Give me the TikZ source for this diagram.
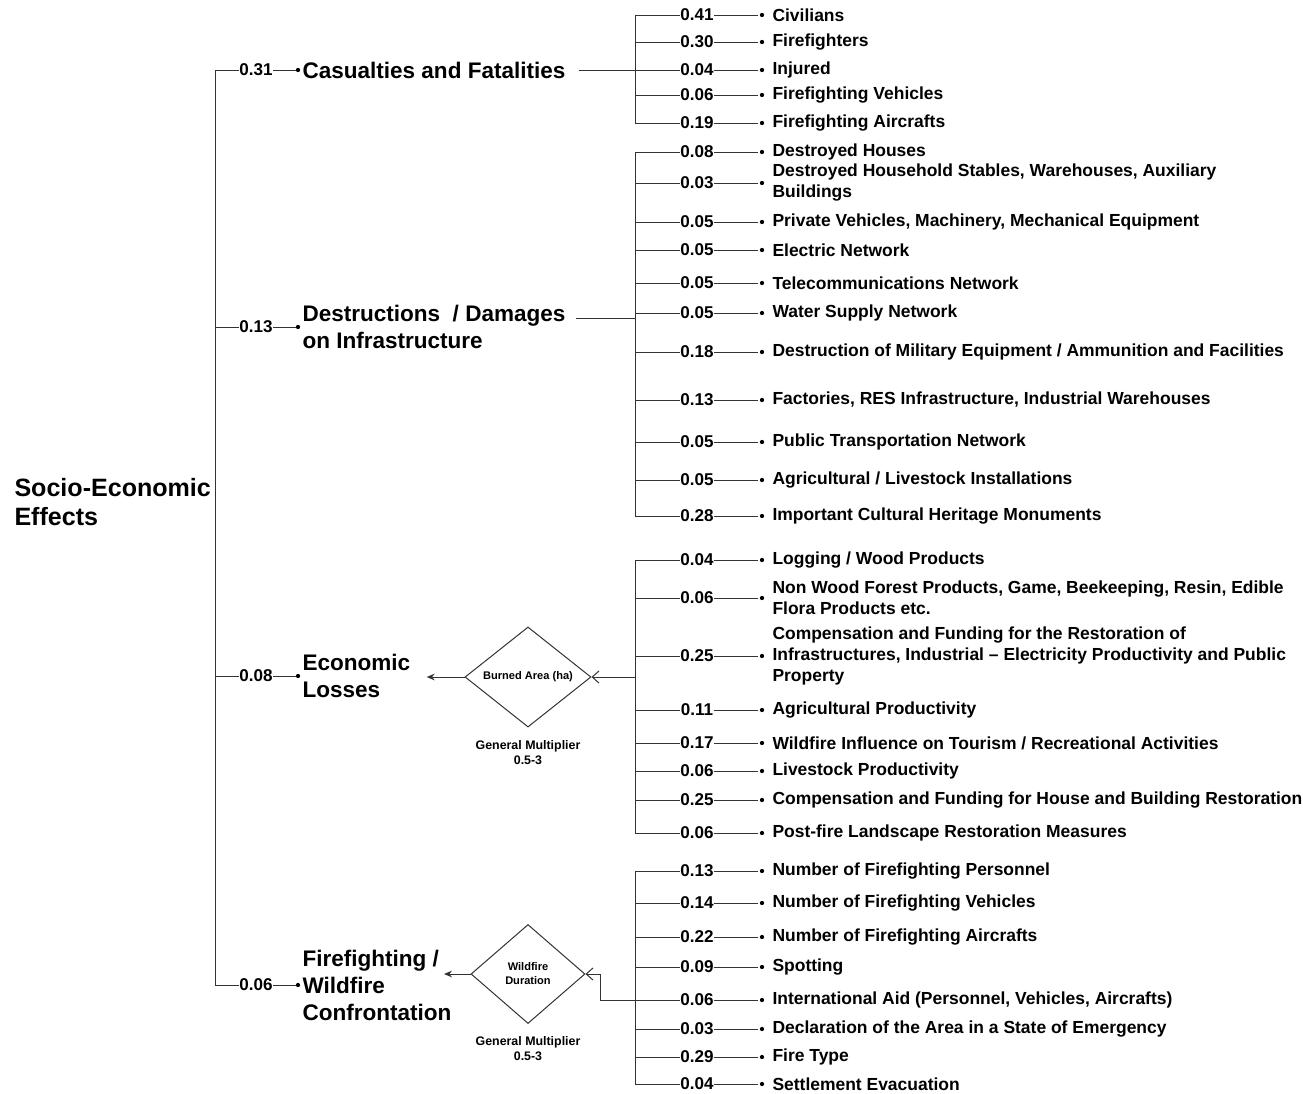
\documentclass[tikz,border=0pt]{standalone}
\usepackage{fontspec}
\setmainfont{Liberation Sans}
\usetikzlibrary{arrows.meta,shapes.geometric,positioning}

\tikzset{
  root/.style={font=\fontsize{18.8}{21.75}\selectfont\bfseries,anchor=west,align=left,inner sep=0pt},
  cat/.style={font=\fontsize{16.9}{20.25}\selectfont\bfseries,anchor=west,align=left,inner xsep=3pt,inner ysep=0pt},
  wt/.style={font=\fontsize{12.8}{14}\selectfont\bfseries,inner sep=0pt},
  itm/.style={font=\fontsize{13.1}{15.75}\selectfont\bfseries,anchor=west,align=left,inner xsep=7.5pt,inner ysep=0pt},
  dia/.style={diamond,draw=black!80,inner sep=0pt,align=center,font=\fontsize{8.3}{10.5}\selectfont\bfseries},
  multnote/.style={font=\fontsize{9.3}{11.25}\selectfont\bfseries,align=center,inner sep=0pt}
}

% one weighted leaf: name, y, weight, text
\newcommand{\leafitem}[4]{%
  \node[wt] (w#1) at (697,#2) {#3};
  \node[itm] (t#1) at (762,#2) {#4};
  \draw (bar |- w#1) -- (w#1.west);
  \draw (w#1.east) -- ([xshift=-3pt]t#1.west);
  \fill (t#1.west) circle (1.6pt);
}

\begin{document}
\begin{tikzpicture}[x=0.75pt,y=-0.75pt,line width=0.75pt,draw=black!80]
\useasboundingbox (0,0) rectangle (1303,1093);

\node[root] (sec) at (14,502) {Socio-Economic\\Effects};
\coordinate (spine) at (215,0);
\coordinate (bar) at (635,0);

% criteria
\node[wt] (w1) at (256,70) {0.31};
\node[cat] (c1) at (298,70) {Casualties and Fatalities};
\node[wt] (w2) at (256,327) {0.13};
\node[cat] (c2) at (298,327) {Destructions~ / Damages\\on Infrastructure};
\node[wt] (w3) at (256,676) {0.08};
\node[cat] (c3) at (298,676) {Economic\\Losses};
\node[wt] (w4) at (256,985) {0.06};
\node[cat] (c4) at (298,985) {Firefighting /\\Wildfire\\Confrontation};

\draw (w1.west) -| (spine |- w4) -- (w4.west);
\draw (spine |- w2) -- (w2.west);
\draw (spine |- w3) -- (w3.west);
\foreach \i in {1,...,4} {
  \draw (w\i.east) -- (c\i.west);
  \fill (c\i.west) circle (1.6pt);
}

% casualties
\leafitem{1a}{15}{0.41}{Civilians}
\leafitem{1b}{42}{0.30}{Firefighters}
\leafitem{1c}{70}{0.04}{Injured}
\leafitem{1d}{95}{0.06}{Firefighting Vehicles}
\leafitem{1e}{123}{0.19}{Firefighting Aircrafts}
\draw (bar |- w1a) -- (bar |- w1e);
\draw ([xshift=6.75pt]c1.east) -- (bar |- c1.east);

% infrastructure
\leafitem{2a}{152}{0.08}{Destroyed Houses}
\leafitem{2b}{183}{0.03}{Destroyed Household Stables, Warehouses, Auxiliary\\Buildings}
\leafitem{2c}{222}{0.05}{Private Vehicles, Machinery, Mechanical Equipment}
\leafitem{2d}{250}{0.05}{Electric Network}
\leafitem{2e}{283}{0.05}{Telecommunications Network}
\leafitem{2f}{313}{0.05}{Water Supply Network}
\leafitem{2g}{352}{0.18}{Destruction of Military Equipment / Ammunition and Facilities}
\leafitem{2h}{400}{0.13}{Factories, RES Infrastructure, Industrial Warehouses}
\leafitem{2i}{442}{0.05}{Public Transportation Network}
\leafitem{2j}{480}{0.05}{Agricultural / Livestock Installations}
\leafitem{2k}{516}{0.28}{Important Cultural Heritage Monuments}
\draw (bar |- w2a) -- (bar |- w2k);
\coordinate (c2out) at ([shift={(4.5pt,6.75pt)}]c2.east);
\draw (c2out) -- (bar |- c2out);

% economic losses
\leafitem{3a}{560}{0.04}{Logging / Wood Products}
\leafitem{3b}{598}{0.06}{Non Wood Forest Products, Game, Beekeeping, Resin, Edible\\Flora Products etc.}
\leafitem{3c}{656}{0.25}{Compensation and Funding for the Restoration of\\Infrastructures, Industrial – Electricity Productivity and Public\\Property}
\leafitem{3d}{710}{0.11}{Agricultural Productivity}
\leafitem{3e}{743}{0.17}{Wildfire Influence on Tourism / Recreational Activities}
\leafitem{3f}{771}{0.06}{Livestock Productivity}
\leafitem{3g}{800}{0.25}{Compensation and Funding for House and Building Restoration}
\leafitem{3h}{833}{0.06}{Post-fire Landscape Restoration Measures}
\draw (bar |- w3a) -- (bar |- w3h);

\node[dia,minimum width=94.5pt,minimum height=75pt] (area) at (528,677) {Burned Area (ha)};
\node[multnote,below=9pt of area] (m1) {General Multiplier\\0.5-3};
\draw[-{Straight Barb[length=5pt,width=9pt]}] (bar |- area.east) -- (area.east);
\coordinate (c3in) at ([xshift=9pt]c3.east);
\draw[-{Stealth[length=6pt,width=5pt]}] (area.west) -- (c3in |- area.west);

% firefighting
\leafitem{4a}{871}{0.13}{Number of Firefighting Personnel}
\leafitem{4b}{903}{0.14}{Number of Firefighting Vehicles}
\leafitem{4c}{937}{0.22}{Number of Firefighting Aircrafts}
\leafitem{4d}{967}{0.09}{Spotting}
\leafitem{4e}{1000}{0.06}{International Aid (Personnel, Vehicles, Aircrafts)}
\leafitem{4f}{1029}{0.03}{Declaration of the Area in a State of Emergency}
\leafitem{4g}{1057}{0.29}{Fire Type}
\leafitem{4h}{1084}{0.04}{Settlement Evacuation}
\draw (bar |- w4a) -- (bar |- w4h);

\node[dia,minimum width=85.5pt,minimum height=74.25pt] (dur) at (528,974) {Wildfire\\Duration};
\node[multnote,below=9pt of dur] (m2) {General Multiplier\\0.5-3};
\coordinate (kink) at (600,974);
\draw[-{Straight Barb[length=5pt,width=9pt]}] (bar |- w4e) -| (kink) -- (dur.east);
\coordinate (c4in) at (444,974);
\draw[-{Stealth[length=6pt,width=5pt]}] (dur.west) -- (c4in);
\end{tikzpicture}
\end{document}
